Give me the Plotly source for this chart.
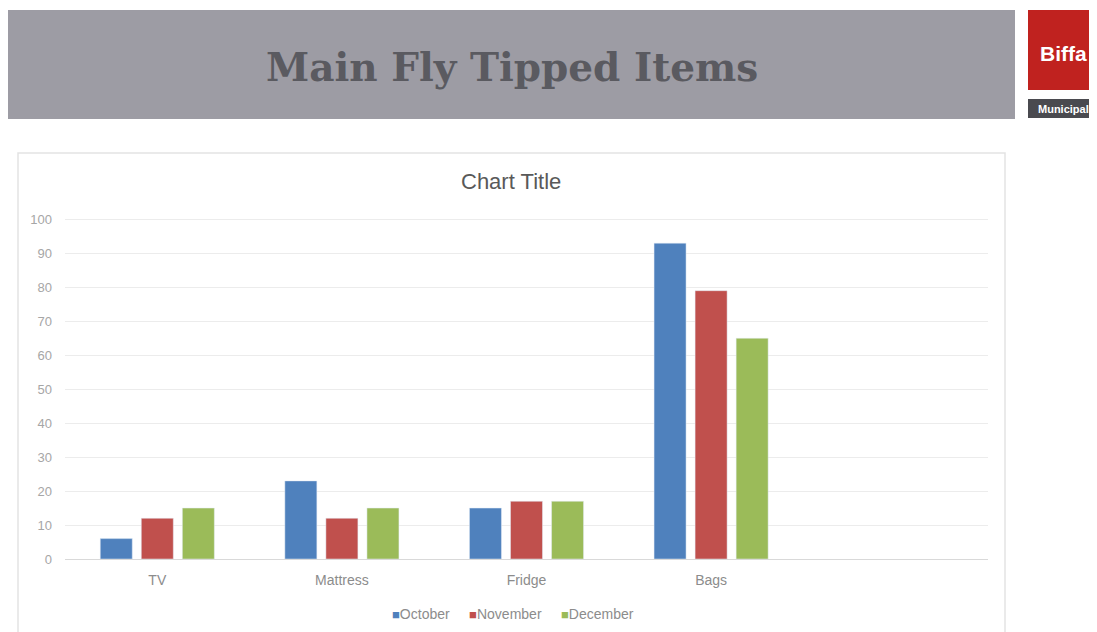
import plotly.graph_objects as go

# chart data
categories = ['TV', 'Mattress', 'Fridge', 'Bags']
series = ['October', 'November', 'December']
october = [6, 23, 15, 93]
november = [12, 12, 17, 79]
december = [15, 15, 17, 65]
colors = ['#4f81bd', '#c0504d', '#9bbb59']

W, H = 1097, 632
OFF = 8  # page body margin


def px_x(x):
    return (x - OFF) / W


def px_y(y):
    return 1 - (y - OFF) / H


fig = go.Figure()
for name, vals, c in zip(series, [october, november, december], colors):
    fig.add_trace(go.Bar(name=name, x=categories, y=vals, marker_color=c, showlegend=False))

# banner, logo and chart frame
shapes = [
    dict(type='rect', xref='paper', yref='paper', x0=px_x(8), x1=px_x(1015), y0=px_y(119), y1=px_y(10),
         fillcolor='#9d9ca4', line_width=0, layer='below'),
    dict(type='rect', xref='paper', yref='paper', x0=px_x(1028), x1=px_x(1105), y0=px_y(90), y1=px_y(10),
         fillcolor='#c0221f', line_width=0, layer='below'),
    dict(type='rect', xref='paper', yref='paper', x0=px_x(1028), x1=px_x(1105), y0=px_y(118), y1=px_y(99),
         fillcolor='#4a4a4f', line_width=0, layer='below'),
    dict(type='rect', xref='paper', yref='paper', x0=px_x(18), x1=px_x(1005), y0=px_y(645), y1=px_y(153),
         fillcolor='rgba(0,0,0,0)', line=dict(color='#e3e3e3', width=1.5), layer='below'),
]

annotations = [
    dict(text='<b>Main Fly Tipped Items</b>', x=px_x(512), y=px_y(67),
         font=dict(family='DejaVu Serif', size=39, color='#5a5a60')),
    dict(text='<b>Biffa</b>', x=px_x(1063), y=px_y(53),
         font=dict(family='Liberation Sans Narrow, Liberation Sans', size=21, color='white')),
    dict(text='<b>Municipal</b>', x=px_x(1063), y=px_y(109),
         font=dict(family='Liberation Sans Narrow, Liberation Sans', size=11, color='white')),
    dict(text='Chart Title', x=px_x(511), y=px_y(181),
         font=dict(family='Liberation Sans', size=22, color='#595959')),
]

# legend drawn as a line of text
legend_text = '&nbsp;&nbsp;&nbsp;&nbsp;&nbsp;'.join(
    f'<span style="color:{c};font-size:13px">■</span>{n}' for n, c in zip(series, colors))
annotations.append(dict(text=legend_text, x=px_x(513), y=px_y(614),
                        font=dict(family='Liberation Sans', size=14, color='#8c8c8c')))

for a in annotations:
    a.update(xref='paper', yref='paper', showarrow=False, xanchor='center', yanchor='middle')

fig.update_layout(
    width=W, height=H,
    margin=dict(l=0, r=0, t=0, b=0),
    paper_bgcolor='white', plot_bgcolor='white',
    barmode='group', bargap=0.333, bargroupgap=0.22,
    font=dict(family='Liberation Sans', color='#8c8c8c', size=13),
    shapes=shapes, annotations=annotations,
    xaxis=dict(domain=[px_x(65), px_x(988)], range=[-0.5, 4.5], showgrid=False, automargin=False,
               showline=True, linecolor='#d9d9d9', ticks='', ticklabelstandoff=8,
               tickfont=dict(size=14, color='#8c8c8c')),
    yaxis=dict(domain=[px_y(559), px_y(218)], range=[0, 100.4], dtick=10, showgrid=True, automargin=False,
               gridcolor='#ececec', zeroline=False, showline=False, ticks='', ticklabelstandoff=12,
               tickfont=dict(size=13, color='#a6a6a6')),
)

fig.write_html('out.html')
